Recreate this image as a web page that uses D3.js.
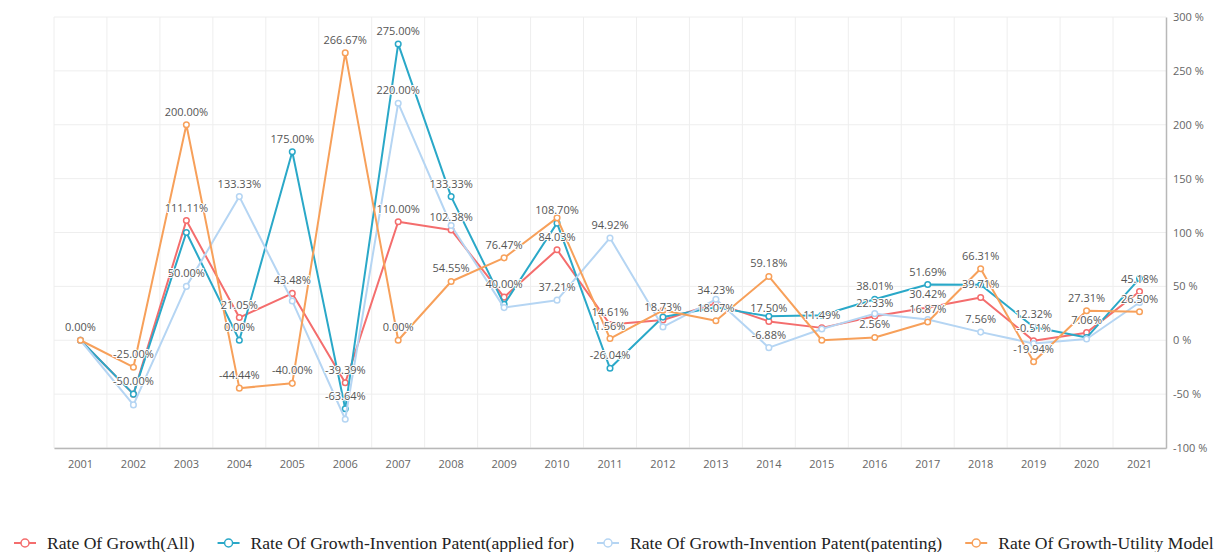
<!DOCTYPE html>
<html>
<head>
<meta charset="utf-8">
<script src="https://cdn.jsdelivr.net/npm/d3@7"></script>
<style>
    body { margin: 0; background: #fff; }
    #chart { width: 1225px; height: 552px; }
    .tick-label { font-family: "Open Sans", sans-serif; font-size: 11px; fill: #666; }
    .data-label { font-family: "Open Sans", sans-serif; font-size: 11px; fill: #555;
        stroke: #fff; stroke-width: 2px; paint-order: stroke; stroke-linejoin: round; }
    .legend-text { font-family: "Liberation Serif", "Times New Roman", serif; font-size: 17.6px; fill: #222; }
</style>
</head>
<body>
<div id="chart"></div>
<script>
//Datos
const years = ['2001','2002','2003','2004','2005','2006','2007','2008','2009','2010','2011',
    '2012','2013','2014','2015','2016','2017','2018','2019','2020','2021'];

const growthAll = [0, -50, 111.11, 21.05, 43.48, -39.39, 110, 102.38, 40, 84.03, 14.61,
    18.73, 34.23, 17.5, 11.49, 22.33, 30.42, 39.71, -0.51, 7.06, 45.18];
const growthApplied = [0, -50, 100, 0, 175, -63.64, 275, 133.33, 33.33, 108.7, -26.04,
    21.5, 30.5, 22.2, 23.2, 38.01, 51.69, 51.5, 12.32, 2.5, 57.2];
const growthPatenting = [0, -60, 50, 133.33, 36.36, -73.33, 220, 106.5, 30.3, 37.21, 94.92,
    12.4, 38, -6.88, 10.5, 24.7, 19.2, 7.56, -3, 1.2, 35];
const growthUtility = [0, -25, 200, -44.44, -40, 266.67, 0, 54.55, 76.47, 113.6, 1.56,
    27.8, 18.07, 59.18, 0, 2.56, 16.87, 66.31, -19.94, 27.31, 26.5];

const seriesNames = ['Rate Of Growth(All)', 'Rate Of Growth-Invention Patent(applied for)',
    'Rate Of Growth-Invention Patent(patenting)', 'Rate Of Growth-Utility Model'];
const yTicks = [-100, -50, 0, 50, 100, 150, 200, 250, 300];

//Colores fijos
const COLORS = ['#f46d6d', '#2aa8c8', '#b5d5f3', '#f7a05a'];

let series = [growthAll, growthApplied, growthPatenting, growthUtility].map(function(values, i) {
    return { name: seriesNames[i], color: COLORS[i], values: values };
});

let margin = {top: 17, right: 59, bottom: 104, left: 54},
    width = 1225 - margin.left - margin.right,
    height = 552 - margin.top - margin.bottom;

let svg = d3.select('#chart')
    .append('svg')
        .attr('width', 1225)
        .attr('height', 552)
    .append('g')
        .attr('transform', 'translate(' + margin.left + ',' + margin.top + ')');

let x = d3.scaleBand()
    .domain(years)
    .range([0, width]);

let y = d3.scaleLinear()
    .domain([-100, 300])
    .range([height, 0]);

//Rejilla
svg.append('g')
    .selectAll('line')
    .data(yTicks)
    .enter()
    .append('line')
    .attr('x1', 0)
    .attr('x2', width)
    .attr('y1', function(d) { return y(d); })
    .attr('y2', function(d) { return y(d); })
    .attr('stroke', '#eeeeee');

svg.append('g')
    .selectAll('line')
    .data(years)
    .enter()
    .append('line')
    .attr('x1', function(d) { return x(d); })
    .attr('x2', function(d) { return x(d); })
    .attr('y1', 0)
    .attr('y2', height)
    .attr('stroke', '#eeeeee');

//Ejes
let xAxis = function(g) {
    g.call(d3.axisBottom(x).tickSize(0).tickPadding(12));
    g.select('.domain').attr('stroke', '#b8b8b8').attr('stroke-width', 1.5);
    g.selectAll('.tick text').attr('class', 'tick-label');
}

svg.append('g')
    .attr('transform', 'translate(0,' + height + ')')
    .call(xAxis);

let yAxis = function(g) {
    g.call(d3.axisRight(y).tickValues(yTicks).tickSize(0).tickPadding(7)
        .tickFormat(function(d) { return d + ' %'; }));
    g.select('.domain').attr('stroke', '#b8b8b8').attr('stroke-width', 1.5);
    g.selectAll('.tick text').attr('class', 'tick-label');
}

svg.append('g')
    .attr('transform', 'translate(' + width + ',0)')
    .call(yAxis);

//Líneas
let cx = function(d, i) { return x(years[i]) + x.bandwidth() / 2; };

let line = d3.line()
    .x(cx)
    .y(function(d) { return y(d); });

series.forEach(function(s) {
    svg.append('path')
        .datum(s.values)
        .attr('fill', 'none')
        .attr('stroke', s.color)
        .attr('stroke-width', 2)
        .attr('stroke-linejoin', 'round')
        .attr('d', line);

    svg.append('g')
        .selectAll('circle')
        .data(s.values)
        .enter()
        .append('circle')
        .attr('cx', cx)
        .attr('cy', function(d) { return y(d); })
        .attr('r', 2.8)
        .attr('fill', '#fff')
        .attr('stroke', s.color)
        .attr('stroke-width', 1.5);
});

//Etiquetas: se ocultan las que se solapan con otra del mismo año
let labelsG = svg.append('g');
years.forEach(function(yr, i) {
    let placed = [];
    series.forEach(function(s) {
        let ly = y(s.values[i]) - 9;
        let clash = placed.some(function(p) { return Math.abs(p - ly) < 13.5; });
        if (clash) return;
        placed.push(ly);
        labelsG.append('text')
            .attr('class', 'data-label')
            .attr('x', cx(null, i))
            .attr('y', ly)
            .attr('text-anchor', 'middle')
            .text(s.values[i].toFixed(2) + '%');
    });
});

//Leyenda
let legend = d3.select('svg').append('g')
    .attr('transform', 'translate(14,543)');

let offset = 0;
series.forEach(function(s) {
    let item = legend.append('g').attr('transform', 'translate(' + offset + ',0)');
    item.append('line')
        .attr('x1', 0).attr('x2', 22)
        .attr('stroke', s.color).attr('stroke-width', 2);
    item.append('circle')
        .attr('cx', 11).attr('r', 4)
        .attr('fill', '#fff').attr('stroke', s.color).attr('stroke-width', 1.5);
    let t = item.append('text')
        .attr('class', 'legend-text')
        .attr('x', 33)
        .attr('dy', '0.33em')
        .text(s.name);
    offset += 33 + t.node().getComputedTextLength() + 23;
});
</script>
</body>
</html>
